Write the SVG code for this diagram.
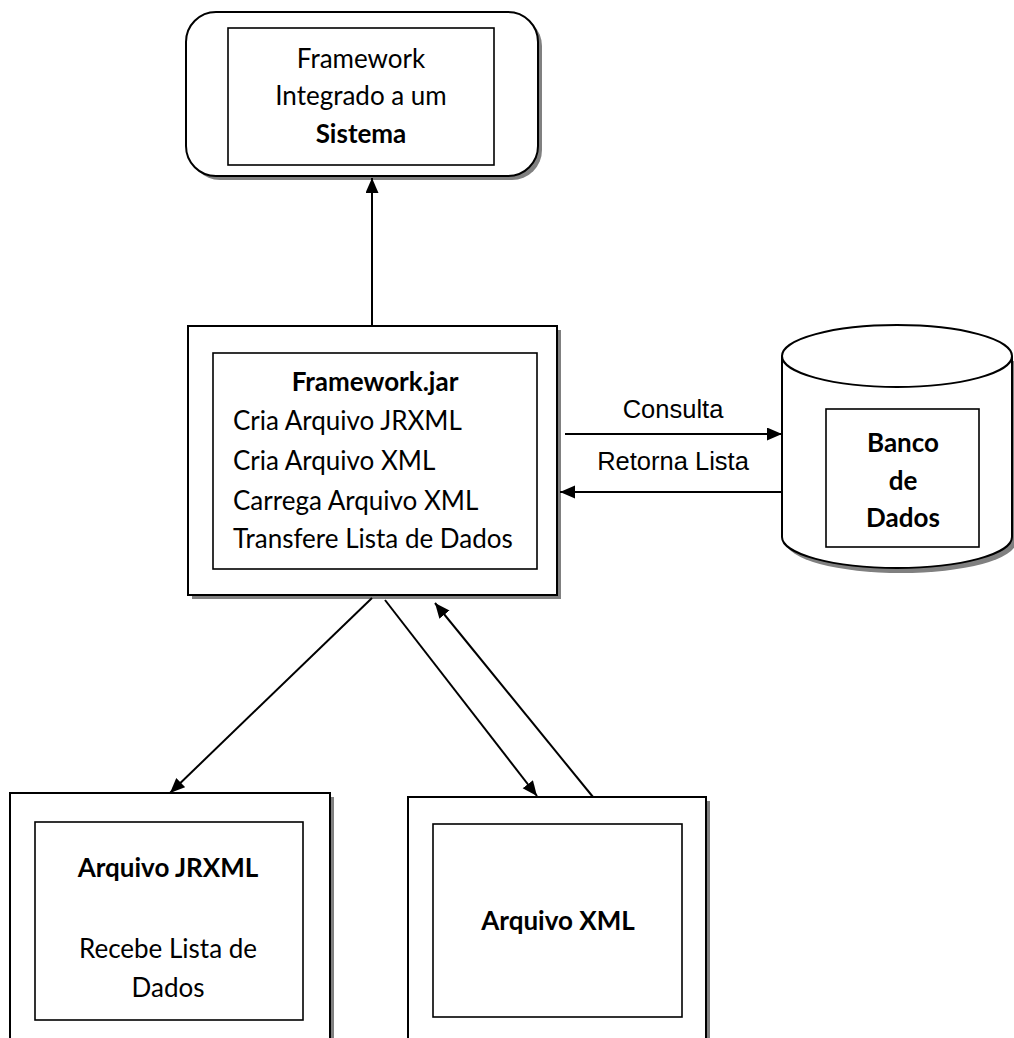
<svg xmlns="http://www.w3.org/2000/svg" width="1014" height="1038" viewBox="0 0 1014 1038">
<defs>
<style>
.sh{fill:#808080;stroke:none}
.ob{fill:#fff;stroke:#000;stroke-width:2}
.ib{fill:#fff;stroke:#000;stroke-width:1.6}
.t{font-family:Lato,"Open Sans",sans-serif;font-size:26px;fill:#000}
.b{font-weight:bold}
.a{font-family:"Liberation Sans",Arial,sans-serif;font-size:25.5px;fill:#000}
.c{fill:none;stroke:#000;stroke-width:2}
</style>
<marker id="ah" markerUnits="userSpaceOnUse" markerWidth="16" markerHeight="14" refX="15" refY="6.5" orient="auto" viewBox="0 0 16 14">
<path d="M0,0 L15,6.5 L0,13 Z" fill="#000"/>
</marker>
</defs>
<rect width="1014" height="1038" fill="#fff"/>
<g id="sistema">
<rect class="sh" x="190" y="16" width="352" height="164" rx="30"/>
<rect class="ob" x="186" y="12" width="352" height="164" rx="30"/>
<rect class="ib" x="228" y="28" width="266" height="137"/>
<text class="t" x="361" y="68" text-anchor="middle">Framework</text>
<text class="t" x="361" y="105" text-anchor="middle">Integrado a um</text>
<text class="t b" x="361" y="143" text-anchor="middle">Sistema</text>
</g>
<g id="framework-jar">
<rect class="sh" x="192" y="330" width="369" height="269"/>
<rect class="ob" x="188" y="326" width="369" height="269"/>
<rect class="ib" x="213" y="353" width="324" height="216"/>
<text class="t b" x="375" y="391" text-anchor="middle">Framework.jar</text>
<text class="t" x="233" y="430">Cria Arquivo JRXML</text>
<text class="t" x="233" y="470">Cria Arquivo XML</text>
<text class="t" x="233" y="510">Carrega Arquivo XML</text>
<text class="t" x="233" y="548">Transfere Lista de Dados</text>
</g>
<g id="banco-de-dados">
<path class="sh" d="M786,361 L786,542 A115,31 0 0 0 1016,542 L1016,361 Z"/>
<path class="ob" d="M782,356 L782,537 A115,31 0 0 0 1012,537 L1012,356 A115,31 0 0 0 782,356 Z"/>
<path class="c" d="M782,356 A115,31 0 0 0 1012,356"/>
<rect class="ib" x="826" y="409" width="153" height="138"/>
<text class="t b" x="903" y="452" text-anchor="middle">Banco</text>
<text class="t b" x="903" y="490" text-anchor="middle">de</text>
<text class="t b" x="903" y="527" text-anchor="middle">Dados</text>
</g>
<g id="arquivo-jrxml">
<rect class="sh" x="14" y="797" width="320" height="260"/>
<rect class="ob" x="10" y="793" width="320" height="260"/>
<rect class="ib" x="35" y="822" width="268" height="198"/>
<text class="t b" x="168" y="877" text-anchor="middle">Arquivo JRXML</text>
<text class="t" x="168" y="958" text-anchor="middle">Recebe Lista de</text>
<text class="t" x="168" y="997" text-anchor="middle">Dados</text>
</g>
<g id="arquivo-xml">
<rect class="sh" x="412" y="801" width="298" height="260"/>
<rect class="ob" x="408" y="797" width="298" height="260"/>
<rect class="ib" x="433" y="824" width="249" height="193"/>
<text class="t b" x="558" y="930" text-anchor="middle">Arquivo XML</text>
</g>
<g id="connectors">
<line class="c" x1="372" y1="325" x2="372" y2="178" marker-end="url(#ah)"/>
<line class="c" x1="565" y1="434" x2="782" y2="434" marker-end="url(#ah)"/>
<line class="c" x1="782" y1="492" x2="560" y2="492" marker-end="url(#ah)"/>
<line class="c" x1="372" y1="598" x2="170" y2="793" marker-end="url(#ah)"/>
<line class="c" x1="385" y1="600" x2="537" y2="796" marker-end="url(#ah)"/>
<line class="c" x1="593" y1="797" x2="435" y2="603" marker-end="url(#ah)"/>
<text class="a" x="673" y="418" text-anchor="middle">Consulta</text>
<text class="a" x="673" y="470" text-anchor="middle">Retorna Lista</text>
</g>
</svg>
